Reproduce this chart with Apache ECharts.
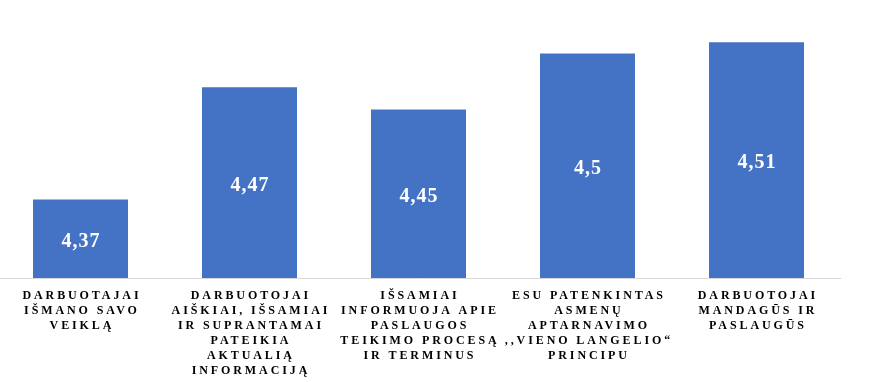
<!DOCTYPE html>
<html>
<head>
<meta charset="utf-8">
<script src="https://cdn.jsdelivr.net/npm/echarts@6/dist/echarts.min.js"></script>
<style>
  html, body { margin: 0; padding: 0; background: #fff; }
  #chart { width: 872px; height: 382px; }
</style>
</head>
<body>
<div id="chart"></div>
<script>
const categories = [
  "DARBUOTAJAI\nIŠMANO SAVO\nVEIKLĄ",
  "DARBUOTOJAI\nAIŠKIAI, IŠSAMIAI\nIR SUPRANTAMAI\nPATEIKIA\nAKTUALIĄ\nINFORMACIJĄ",
  "IŠSAMIAI\nINFORMUOJA APIE\nPASLAUGOS\nTEIKIMO PROCESĄ\nIR TERMINUS",
  "ESU PATENKINTAS\nASMENŲ\nAPTARNAVIMO\n,,VIENO LANGELIO“\nPRINCIPU",
  "DARBUOTOJAI\nMANDAGŪS IR\nPASLAUGŪS"
];
const values = [4.37, 4.47, 4.45, 4.5, 4.51];

// letter spacing for the wide-tracked labels (canvas letterSpacing)
(function () {
  const proto = CanvasRenderingContext2D.prototype;
  const orig = proto.fillText;
  proto.fillText = function (t, x, y, m) {
    let ls = 0;
    if (/\b12px/.test(this.font)) ls = 2.9;
    else if (/\b20px/.test(this.font)) ls = 1;
    if ('letterSpacing' in this) {
      this.letterSpacing = ls + 'px';
      if (ls && this.textAlign === 'center') x += ls / 2;
    }
    const r = m === undefined ? orig.call(this, t, x, y) : orig.call(this, t, x, y, m);
    if ('letterSpacing' in this) this.letterSpacing = '0px';
    return r;
  };
})();

const serif = "'Liberation Serif', 'Times New Roman', serif";
const chart = echarts.init(document.getElementById('chart'));
chart.setOption({
  animation: false,
  grid: { left: -4, right: 31, top: 31, bottom: 104, outerBoundsMode: 'none', containLabel: false },
  xAxis: {
    type: 'category',
    data: categories,
    axisLine: { show: true, lineStyle: { color: '#d9d9d9', width: 1 } },
    axisTick: { show: false },
    axisLabel: {
      interval: 0,
      margin: 10,
      fontFamily: serif,
      fontWeight: 'bold',
      fontSize: 12,
      lineHeight: 15,
      color: '#000',
      align: 'center'
    }
  },
  yAxis: {
    type: 'value',
    min: 4.3,
    max: 4.52,
    show: false,
    splitLine: { show: false }
  },
  series: [{
    type: 'bar',
    data: values,
    barWidth: 95,
    itemStyle: { color: '#4472C4' },
    label: {
      show: true,
      position: 'inside',
      offset: [0, 3],
      color: '#fff',
      fontFamily: serif,
      fontWeight: 'bold',
      fontSize: 20,
      formatter: p => String(p.value).replace('.', ',')
    }
  }]
});
</script>
</body>
</html>
